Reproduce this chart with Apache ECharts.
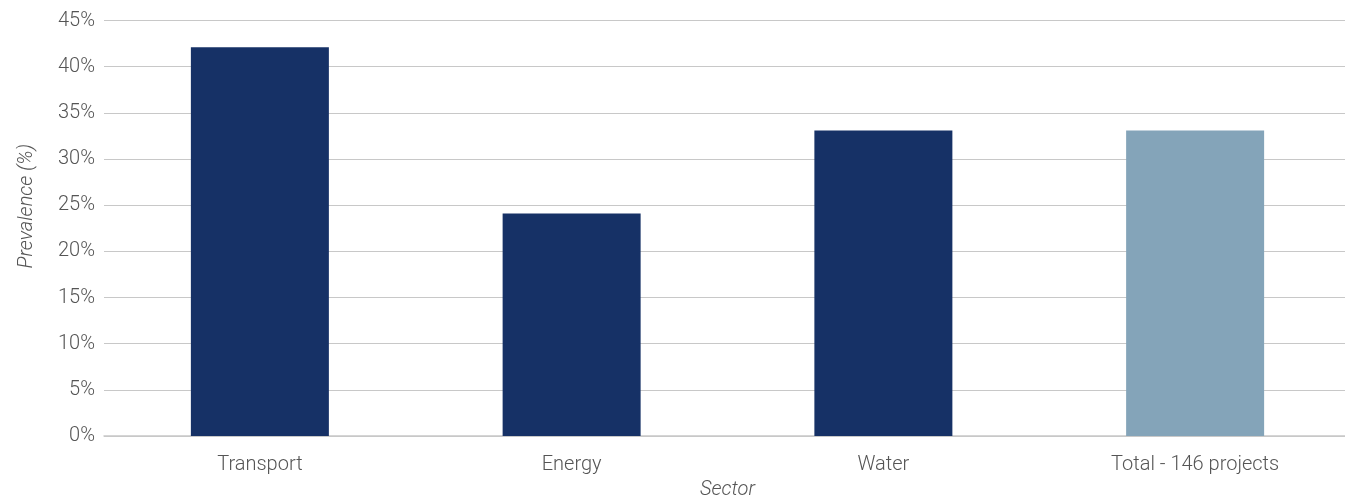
<!DOCTYPE html>
<html><head><meta charset="utf-8">
<script src="https://cdn.jsdelivr.net/npm/echarts@6/dist/echarts.min.js"></script>
<style>html,body{margin:0;padding:0;background:#fff}#c{width:1345px;height:497px}</style>
</head><body><div id="c"></div>
<script>
const categories = ['Transport', 'Energy', 'Water', 'Total - 146 projects'];
const values = [42.1, 24.1, 33.1, 33.1];
const barColors = ['#163166', '#163166', '#163166', '#84a4b9'];
const yTicks = [0, 5, 10, 15, 20, 25, 30, 35, 40, 45];

const chart = echarts.init(document.getElementById('c'), null, {renderer: 'canvas'});
chart.setOption({
  animation: false,
  grid: {left: 104, top: 20.5, width: 1247, height: 415.5, containLabel: false, outerBoundsMode: 'none'},
  xAxis: {
    type: 'category', data: categories,
    name: 'Sector', nameLocation: 'middle', nameGap: 40,
    nameTextStyle: {fontFamily: 'Roboto', fontStyle: 'italic', fontWeight: 300, fontSize: 20, color: '#555'},
    axisLine: {show: true, lineStyle: {color: '#c8c8c8', width: 1.5}},
    axisTick: {show: false},
    axisLabel: {fontFamily: 'Roboto', fontWeight: 300, fontSize: 20, color: '#555', margin: 19}
  },
  yAxis: {
    type: 'value', min: 0, max: 45, interval: 5,
    name: 'Prevalence (%)', nameLocation: 'middle', nameGap: 67,
    nameTextStyle: {fontFamily: 'Roboto', fontStyle: 'italic', fontWeight: 300, fontSize: 20, color: '#555', padding: [0, 0, 0, 44]},
    axisLine: {show: false}, axisTick: {show: false},
    splitLine: {lineStyle: {color: '#c8c8c8', width: 1.2}},
    axisLabel: {fontFamily: 'Roboto', fontWeight: 300, fontSize: 20, color: '#555', margin: 9,
      formatter: v => yTicks.includes(v) ? v + '%' : ''}
  },
  series: [{
    type: 'bar', barWidth: 138,
    data: values.map((v, i) => ({value: v, itemStyle: {color: barColors[i]}}))
  }]
});
</script></body></html>
